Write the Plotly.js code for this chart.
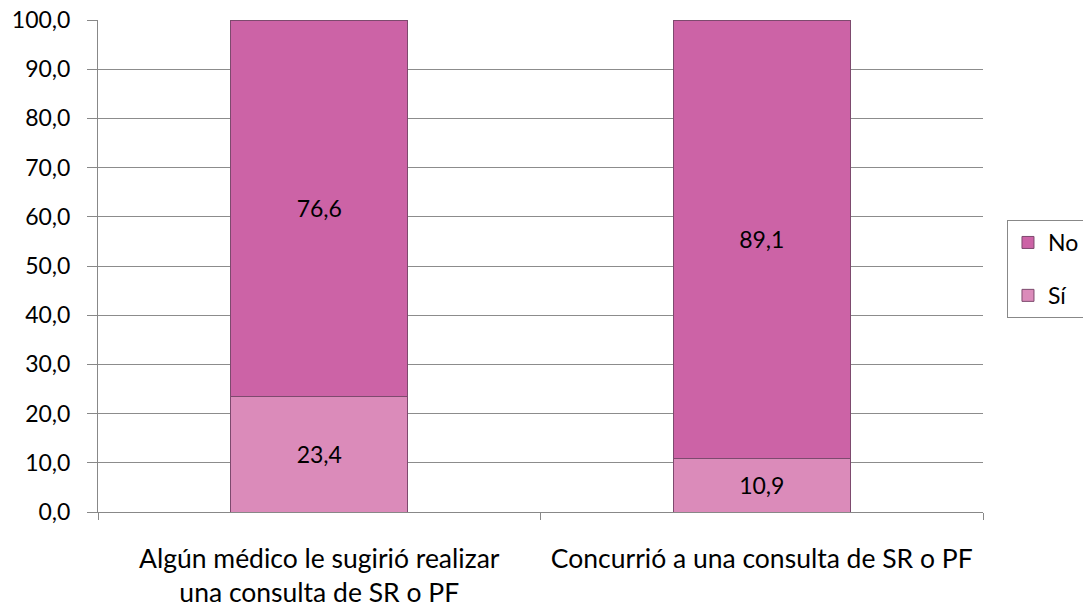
<!DOCTYPE html>
<html>
<head>
<meta charset="utf-8">
<script src="https://cdn.plot.ly/plotly-3.0.1.min.js"></script>
<style>html,body{margin:0;padding:0;background:#fff;}#chart{width:1083px;height:610px;}</style>
</head>
<body>
<div id="chart"></div>
<script>
const categories = ["Algún médico le sugirió realizar<br>una consulta de SR o PF", "Concurrió a una consulta de SR o PF"];
const siValues = [23.4, 10.9];
const noValues = [76.6, 89.1];
const yTicks = [0, 10, 20, 30, 40, 50, 60, 70, 80, 90, 100];

const fmt = v => v.toFixed(1).replace('.', ',');
const FONT = "Lato, 'Open Sans', sans-serif";

const traces = [
  {
    type: 'bar', name: 'Sí', x: categories, y: siValues,
    text: siValues.map(fmt), textposition: 'inside', insidetextanchor: 'middle', textangle: 0,
    textfont: {family: FONT, size: 23, color: '#000'},
    marker: {color: '#DB8BBA', line: {color: '#7D4A6E', width: 1}},
    legendgroup: 's', legendrank: 2, hoverinfo: 'skip'
  },
  {
    type: 'bar', name: 'No', x: categories, y: noValues,
    text: noValues.map(fmt), textposition: 'inside', insidetextanchor: 'middle', textangle: 0,
    textfont: {family: FONT, size: 23, color: '#000'},
    marker: {color: '#CC63A6', line: {color: '#7D4A6E', width: 1}},
    legendgroup: 'n', legendrank: 1, hoverinfo: 'skip'
  }
];

const layout = {
  width: 1083, height: 610,
  margin: {l: 98, r: 100, t: 20, b: 98, autoexpand: false},
  paper_bgcolor: '#fff', plot_bgcolor: '#fff',
  barmode: 'stack', bargap: 0.6,
  separators: ',.',
  font: {family: FONT, size: 23, color: '#000'},
  showlegend: true,
  legend: {
    xref: 'container', yref: 'container',
    x: 0.9298, xanchor: 'left', y: 0.559, yanchor: 'middle',
    traceorder: 'grouped', tracegroupgap: 20,
    bordercolor: '#888', borderwidth: 1, bgcolor: '#fff',
    font: {family: FONT, size: 23, color: '#000'}
  },
  xaxis: {
    type: 'category', tickson: 'boundaries', ticks: 'outside', ticklen: 7, tickcolor: '#888',
    showline: true, linecolor: '#888', linewidth: 1, showgrid: false, automargin: false,
    tickangle: 0,
    tickfont: {family: FONT, size: 26.5, color: '#000'}, ticklabelstandoff: 23, fixedrange: true
  },
  yaxis: {
    range: [0, 100], tickvals: yTicks, tickformat: '.1f',
    ticks: 'outside', ticklen: 10, tickcolor: '#888', automargin: false,
    showline: true, linecolor: '#888', linewidth: 1, ticklabelstandoff: 12,
    showgrid: true, gridcolor: '#8c8c8c', gridwidth: 1, zeroline: false,
    tickfont: {family: FONT, size: 23, color: '#000'}, fixedrange: true
  }
};

Plotly.newPlot('chart', traces, layout, {displayModeBar: false, staticPlot: true});
</script>
</body>
</html>
